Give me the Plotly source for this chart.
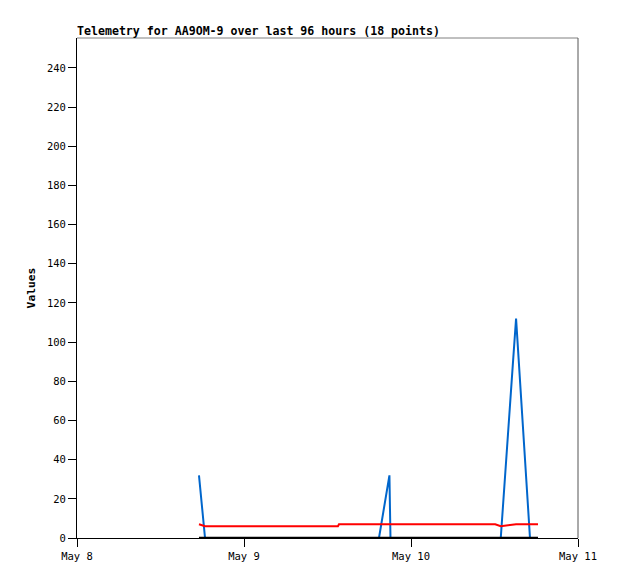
import plotly.graph_objects as go
from datetime import datetime, timedelta

# Hours after 2024-05-08 00:00 for each of the 18 telemetry points
hours = [17.53, 18.4, 24.0, 28.0, 32.0, 37.5, 37.65, 43.4, 44.9, 45.05,
         48.0, 54.0, 60.1, 60.9, 62.7, 63.1, 65.1, 66.25]
blue_vals = [32, 0, 0, 0, 0, 0, 0, 0, 32, 0, 0, 0, 0, 0, 92, 112, 0, 0]
red_vals = [7, 6, 6, 6, 6, 6, 7, 7, 7, 7, 7, 7, 7, 6, 7, 7, 7, 7]
black_vals = [0] * 18

tick_dates = ["2024-05-08", "2024-05-09", "2024-05-10", "2024-05-11"]
tick_labels = ["May 8", "May 9", "May 10", "May 11"]
y_ticks = list(range(0, 241, 20))

base = datetime(2024, 5, 8)
times = [base + timedelta(hours=h) for h in hours]

fig = go.Figure()
fig.add_trace(go.Scatter(x=times, y=blue_vals, mode="lines",
                         line=dict(color="#0066cc", width=2), showlegend=False))
fig.add_trace(go.Scatter(x=times, y=red_vals, mode="lines",
                         line=dict(color="#ff0000", width=2), showlegend=False))
fig.add_trace(go.Scatter(x=times, y=black_vals, mode="lines",
                         line=dict(color="#000000", width=2.5), showlegend=False))

mono = "DejaVu Sans Mono, Liberation Mono, monospace"

# page has an 8px body margin, so margins are offset by 8px
fig.update_layout(
    width=618, height=579,
    margin=dict(l=69, r=48, t=30, b=49, autoexpand=False),
    paper_bgcolor="white", plot_bgcolor="white",
    font=dict(family=mono, size=10, color="black"),
    title=dict(text="<b>Telemetry for AA9OM-9 over last 96 hours (18 points)</b>",
               x=69/618, xanchor="left", xref="container",
               y=1 - 23/579, yanchor="middle", yref="container",
               font=dict(family=mono, size=11.6, color="black")),
    xaxis=dict(range=["2024-05-08", "2024-05-11"], type="date",
               tickvals=tick_dates, ticktext=tick_labels,
               ticks="outside", ticklen=8, tickcolor="black", tickwidth=1,
               showline=True, linecolor="black", linewidth=1,
               showgrid=False, zeroline=False, automargin=False,
               tickfont=dict(family=mono, size=10.5)),
    yaxis=dict(range=[0, 255.3], tickvals=y_ticks,
               ticks="outside", ticklen=8, tickcolor="black", tickwidth=1,
               showline=True, linecolor="black", linewidth=1,
               showgrid=False, zeroline=False, automargin=False,
               title=dict(text="<b>Values</b>", standoff=8,
                          font=dict(family=mono, size=11.3)),
               tickfont=dict(family=mono, size=10.5)),
    shapes=[
        dict(type="line", xref="paper", yref="paper", x0=0, x1=1, y0=1, y1=1,
             line=dict(color="#808080", width=1)),
        dict(type="line", xref="paper", yref="paper", x0=1, x1=1, y0=0, y1=1,
             line=dict(color="#555555", width=1)),
    ],
)

fig.write_html("out.html")
